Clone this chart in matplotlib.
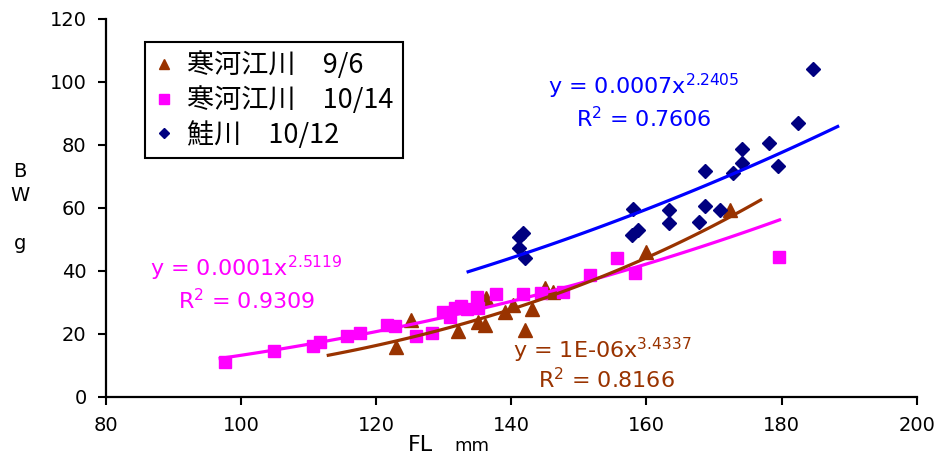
import numpy as np
import matplotlib
matplotlib.use('Agg')
import matplotlib.pyplot as plt

plt.rcParams.update({
    'font.family': ['DejaVu Sans'],
    'mathtext.fontset': 'dejavusans',
    'axes.linewidth': 1.6,
})

BROWN = '#993300'
PINK = '#FF00FF'
NAVY = '#000080'
BLUE = '#0000FF'

# 寒河江川 9/6  (FL mm, BW g)
sep_fl = [122.9, 125.1, 132.1, 135.0, 136.1, 136.3, 139.0, 140.2, 142.0,
          143.0, 145.0, 146.2, 160.0, 172.3]
sep_bw = [16.0, 24.4, 21.0, 23.9, 22.9, 31.3, 27.0, 29.2, 21.3,
          27.9, 34.5, 33.2, 46.1, 59.4]

# 寒河江川 10/14
oct_fl = [97.6, 104.9, 110.6, 111.7, 115.6, 117.6, 121.6, 122.8, 125.9,
          128.2, 129.9, 130.9, 131.6, 132.6, 133.4, 134.9, 135.0, 137.7,
          141.7, 144.4, 147.6, 151.6, 155.6, 158.3, 179.6]
oct_bw = [11.2, 14.6, 16.2, 17.3, 19.5, 20.2, 22.9, 22.4, 19.4,
          20.2, 27.0, 25.3, 28.3, 29.0, 28.0, 31.7, 28.4, 32.6,
          32.6, 33.0, 33.3, 38.7, 44.1, 39.4, 44.5]

# 鮭川 10/12
sake_fl = [141.2, 141.7, 141.2, 142.0, 157.8, 158.0, 158.8, 163.4, 163.4,
           167.7, 168.7, 168.7, 170.9, 172.8, 174.1, 174.1, 178.2, 179.4,
           182.4, 184.7]
sake_bw = [50.9, 52.2, 47.2, 44.0, 51.4, 59.6, 53.0, 59.4, 55.1,
           55.5, 60.6, 71.8, 59.4, 71.0, 78.6, 74.2, 80.7, 73.3,
           86.9, 104.1]

# x-range over which each power trend line is drawn
sep_trend = (112.9, 176.9)
oct_trend = (96.9, 179.7)
sake_trend = (133.6, 188.3)

labels = ['寒河江川\u30009/6', '寒河江川\u300010/14', '鮭川\u300010/12']
eqs = [r'y = 1E-06x$^{3.4337}$', r'y = 0.0001x$^{2.5119}$', r'y = 0.0007x$^{2.2405}$']
r2s = [r'R$^2$ = 0.8166', r'R$^2$ = 0.9309', r'R$^2$ = 0.7606']


def power_fit(x, y, rng):
    b, lna = np.polyfit(np.log(x), np.log(y), 1)
    xs = np.linspace(rng[0], rng[1], 100)
    return xs, np.exp(lna) * xs ** b


fig = plt.figure(figsize=(9.34, 4.54), dpi=100)
ax = fig.add_axes([0.1135, 0.1256, 0.868, 0.8326])

ax.plot(sep_fl, sep_bw, '^', color=BROWN, ms=9.5, mec=BROWN, ls='none',
        label=labels[0], zorder=3)
ax.plot(oct_fl, oct_bw, 's', color=PINK, ms=8.5, mec=PINK, ls='none',
        label=labels[1], zorder=3)
ax.plot(sake_fl, sake_bw, 'D', color=NAVY, ms=7, mec=NAVY, ls='none',
        label=labels[2], zorder=3)

for fl, bw, rng, c in [(oct_fl, oct_bw, oct_trend, PINK),
                       (sep_fl, sep_bw, sep_trend, BROWN),
                       (sake_fl, sake_bw, sake_trend, BLUE)]:
    xs, ys = power_fit(np.array(fl), np.array(bw), rng)
    ax.plot(xs, ys, '-', color=c, lw=2.3, zorder=4)

# equations
fs_eq = 16
ax.text(140.3, 12.3, eqs[0], color=BROWN, fontsize=fs_eq, va='baseline')
ax.text(144.0, 2.8, r2s[0], color=BROWN, fontsize=fs_eq, va='baseline')
ax.text(86.5, 38.2, eqs[1], color=PINK, fontsize=fs_eq, va='baseline')
ax.text(90.7, 27.8, r2s[1], color=PINK, fontsize=fs_eq, va='baseline')
ax.text(145.4, 96.1, eqs[2], color=BLUE, fontsize=fs_eq, va='baseline')
ax.text(149.6, 85.6, r2s[2], color=BLUE, fontsize=fs_eq, va='baseline')

ax.set_xlim(80, 200)
ax.set_ylim(0, 120)
ax.set_xticks(np.arange(80, 201, 20))
ax.set_yticks(np.arange(0, 121, 20))
ax.tick_params(direction='out', length=6, width=1.5, labelsize=14, pad=8)
for s in ['top', 'right']:
    ax.spines[s].set_visible(False)

leg = ax.legend(loc='upper left', bbox_to_anchor=(0.048, 0.939), borderaxespad=0,
                prop={'family': ['Noto Sans CJK JP', 'DejaVu Sans'], 'size': 19.5},
                fancybox=False, edgecolor='black', framealpha=1,
                handlelength=0.7, handletextpad=0.5, labelspacing=0.25,
                borderpad=0.35, markerscale=0.8)
leg.get_frame().set_linewidth(1.5)

fig.text(0.0214, 0.543, 'B\nW\n\ng', ha='center', va='center', fontsize=14,
         linespacing=1.35, multialignment='center')
fig.text(0.437, 0.0066, 'FL', ha='left', va='baseline', fontsize=16)
fig.text(0.487, 0.0066, 'mm', ha='left', va='baseline', fontsize=13)

fig.savefig('out.png', dpi=100)
